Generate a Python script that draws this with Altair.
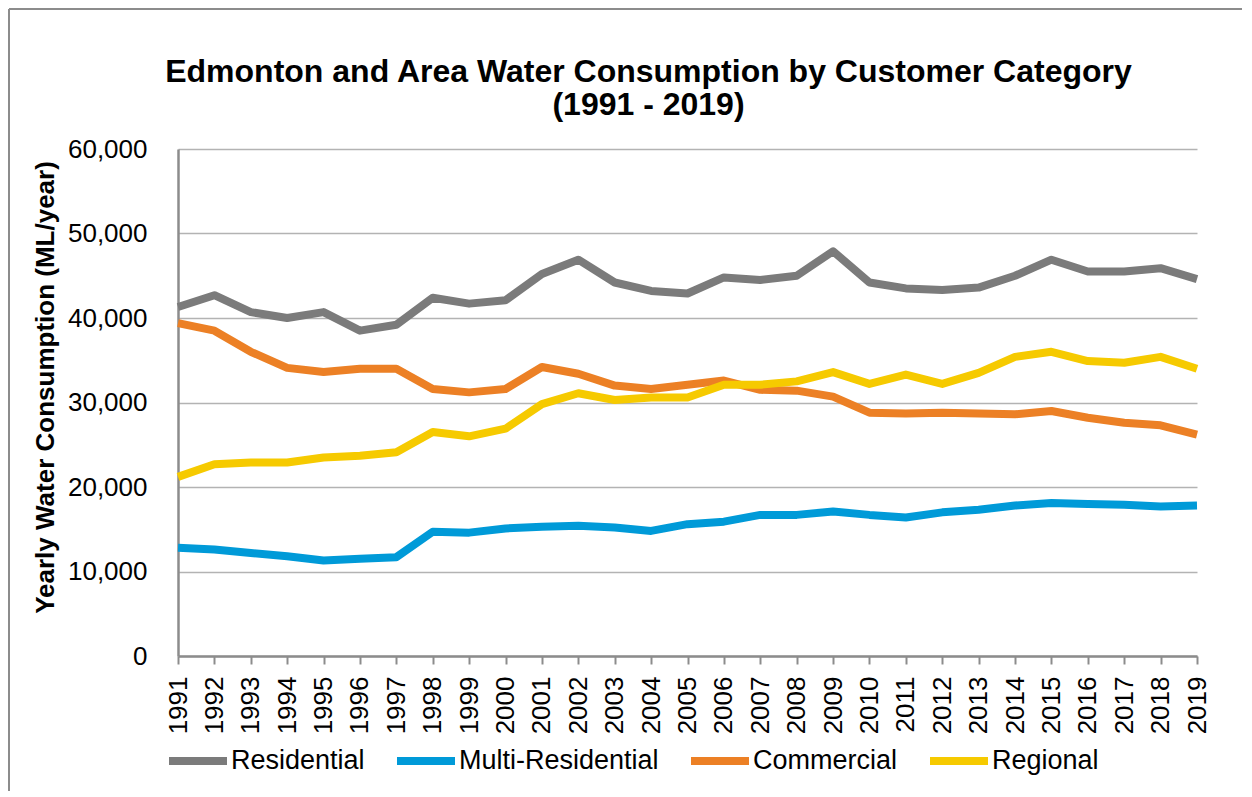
import altair as alt
import pandas as pd

years = list(range(1991, 2020))
categories = ["Residential", "Multi-Residential", "Commercial", "Regional"]
colors = ["#7b7b7b", "#009ad8", "#ec8025", "#f6ca00"]

residential = [41300, 42700, 40700, 40000, 40700, 38500, 39200, 42400, 41700, 42100,
               45200, 46900, 44200, 43200, 42900, 44800, 44500, 45000, 47900, 44200,
               43500, 43300, 43600, 45000, 46900, 45500, 45500, 45900, 44600]
multi_residential = [12800, 12600, 12200, 11800, 11300, 11500, 11700, 14700, 14600, 15100,
                     15300, 15400, 15200, 14800, 15600, 15900, 16700, 16700, 17100, 16700,
                     16400, 17000, 17300, 17800, 18100, 18000, 17900, 17700, 17800]
commercial = [39400, 38500, 36000, 34100, 33600, 34000, 34000, 31600, 31200, 31600,
              34200, 33400, 32000, 31600, 32100, 32600, 31500, 31400, 30700, 28800,
              28700, 28800, 28700, 28600, 29000, 28200, 27600, 27300, 26200]
regional = [21200, 22700, 22900, 22900, 23500, 23700, 24100, 26500, 26000, 26900,
            29800, 31100, 30300, 30600, 30600, 32100, 32100, 32500, 33600, 32200,
            33300, 32200, 33500, 35400, 36000, 34900, 34700, 35400, 34000]

series = [residential, multi_residential, commercial, regional]
rows = []
for ci, (cat, vals) in enumerate(zip(categories, series)):
    for y, v in zip(years, vals):
        rows.append({"Year": str(y), "Category": cat, "Value": v, "order": ci})
df = pd.DataFrame(rows)

FONT = "Liberation Sans"

lines = alt.Chart(df).mark_line(strokeWidth=8, strokeJoin="round").encode(
    x=alt.X("Year:O", scale=alt.Scale(padding=0),
            axis=alt.Axis(title=None, labelAngle=270, labelAlign="right",
                          labelBaseline="middle", labelFontSize=26, labelFont=FONT,
                          labelColor="#000000", labelPadding=12,
                          tickSize=8, tickColor="#8c8c8c", tickWidth=2,
                          domainColor="#8c8c8c", domainWidth=2.5, grid=False)),
    y=alt.Y("Value:Q", scale=alt.Scale(domain=[0, 60000], nice=False),
            axis=alt.Axis(title="Yearly Water Consumption (ML/year)",
                          values=[0, 10000, 20000, 30000, 40000, 50000, 60000],
                          format=",d", labelFontSize=26, labelFont=FONT,
                          labelColor="#000000", labelPadding=31, ticks=False,
                          domainColor="#8c8c8c", domainWidth=2.5,
                          gridColor="#b3b3b3", gridWidth=1.5,
                          titleFont=FONT, titleFontSize=26, titleFontWeight="bold",
                          titleColor="#000000", titleAngle=270, titleX=-133, titleY=238,
                          titleAlign="center", titleBaseline="middle")),
    color=alt.Color("Category:N",
                    scale=alt.Scale(domain=categories, range=colors),
                    legend=alt.Legend(title=None, orient="none", direction="horizontal",
                                      legendX=-13, legendY=579,
                                      symbolType="stroke", symbolSize=3364,
                                      symbolStrokeWidth=8, labelFontSize=27,
                                      labelFont=FONT, labelColor="#000000",
                                      labelOffset=0, columnPadding=16, labelLimit=0)),
    order=alt.Order("order:Q"),
    detail="Category:N",
)

border_top = alt.Chart(df).mark_rule(color="#8c8c8c", strokeWidth=2).encode(
    x=alt.value(-169), x2=alt.value(1100), y=alt.value(-140))
border_left = alt.Chart(df).mark_rule(color="#8c8c8c", strokeWidth=2).encode(
    x=alt.value(-169), y=alt.value(-140), y2=alt.value(700))

chart = alt.layer(border_top, border_left, lines).properties(
    width=1019, height=507,
    autosize=alt.AutoSizeParams(type="none"),
    padding={"left": 170, "top": 141, "right": 45, "bottom": 135},
    title=alt.TitleParams(
        text=["Edmonton and Area Water Consumption by Customer Category", "(1991 - 2019)"],
        font=FONT, fontSize=32, fontWeight="bold", color="#000000",
        anchor="middle", dx=-39, dy=114, lineHeight=33, offset=0),
).configure_view(stroke=None)

chart.save("out.html", embed_options={"renderer": "svg", "actions": False})
